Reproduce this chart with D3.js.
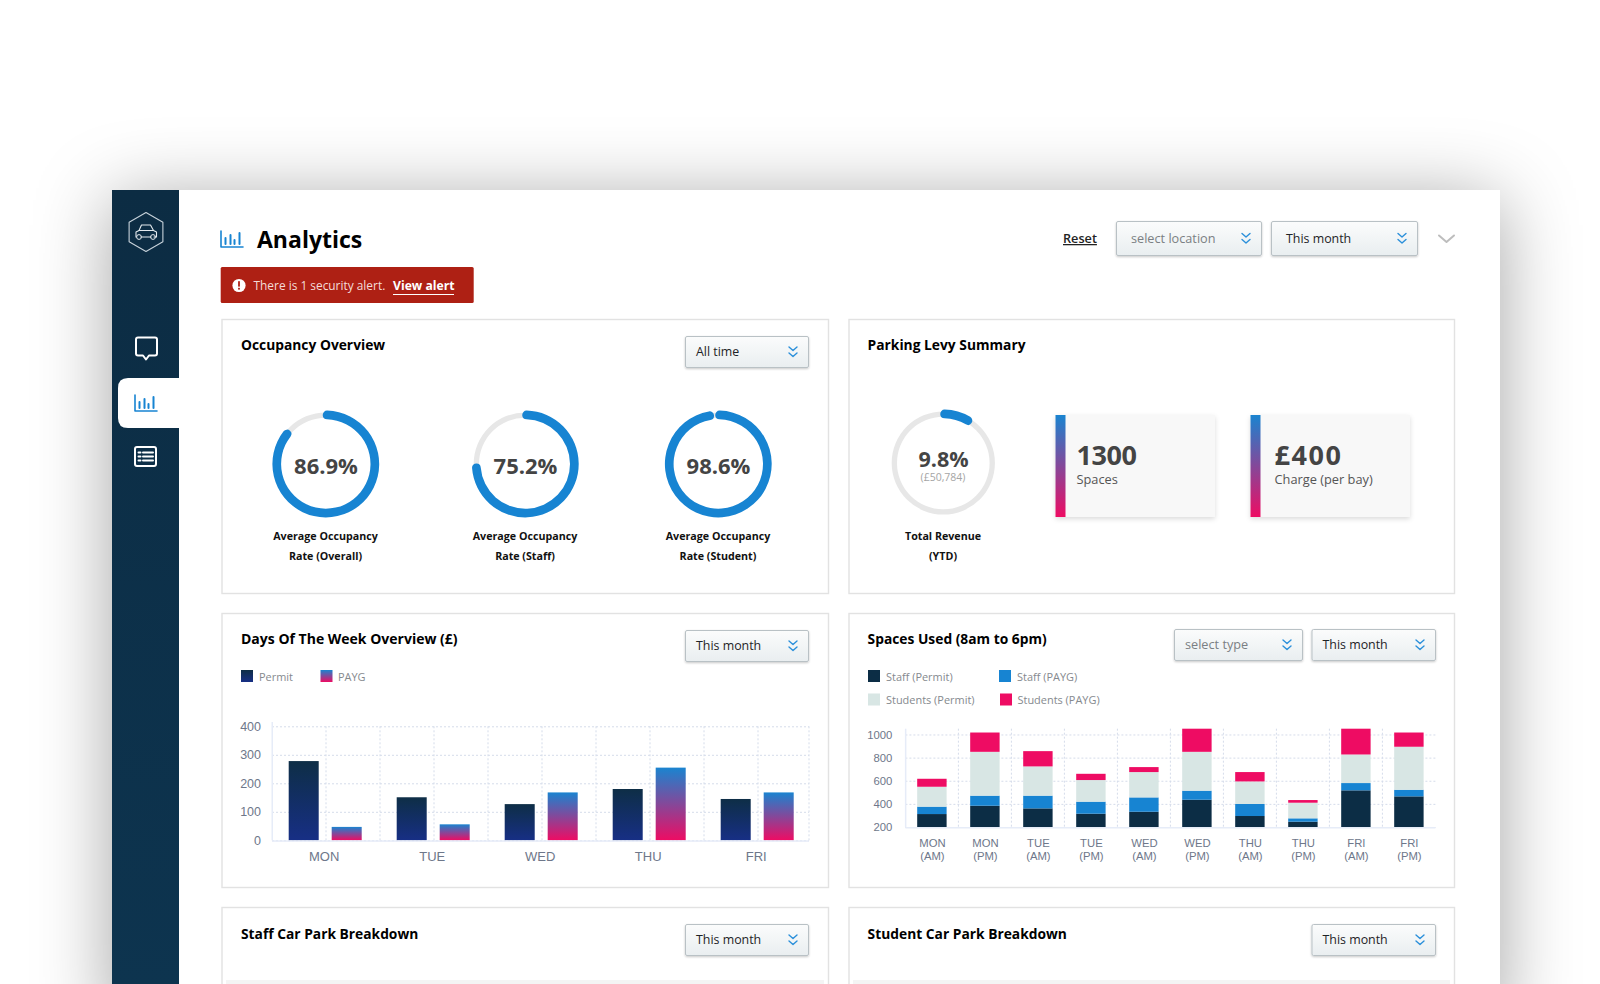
<!DOCTYPE html>
<html><head><meta charset="utf-8">
<script src="https://cdnjs.cloudflare.com/ajax/libs/d3/7.8.5/d3.min.js"></script>
<style>html,body{margin:0;padding:0;background:#fff;overflow:hidden}svg{display:block}</style>
</head><body><svg id="c" width="1600" height="984"></svg>
<script>
// ---- data ----
const weekDays = ["MON","TUE","WED","THU","FRI"];
const weekPermit = [278,151,127,180,145];
const weekPayg = [47,56,168,255,168];
const weekTicks = [0,100,200,300,400];
const weekLegend = ["Permit","PAYG"];
const slotDays = ["MON","MON","TUE","TUE","WED","WED","THU","THU","FRI","FRI"];
const slotParts = ["(AM)","(PM)","(AM)","(PM)","(AM)","(PM)","(AM)","(PM)","(AM)","(PM)"];
const staffPermit = [312,384,361,315,332,436,295,246,517,465];
const staffPayg = [64,87,110,104,124,78,104,29,63,57];
const studentPermit = [172,379,253,187,219,336,195,135,247,372];
const studentPayg = [69,167,132,54,43,220,81,23,240,123];
const spaceTicks = [200,400,600,800,1000];
const spaceLegend = ["Staff (Permit)","Staff (PAYG)","Students (Permit)","Students (PAYG)"];
const donutValues = [86.9,75.2,98.6,9.8];
const donutLabels = [["Average Occupancy","Rate (Overall)"],["Average Occupancy","Rate (Staff)"],["Average Occupancy","Rate (Student)"],["Total Revenue","(YTD)"]];
const statValues = ["1300","£400"];
const statLabels = ["Spaces","Charge (per bay)"];

const svg = d3.select("#c");
const UI = "'Open Sans','Noto Sans',sans-serif", AR = "'Liberation Sans',Arial,sans-serif";
const BLUE="#1784d2", NAVY="#0c2d45", PINK="#ee0c63", PALE="#d8e6e4";
const defs = svg.append("defs");
function grad(id,stops){const g=defs.append("linearGradient").attr("id",id).attr("x1",0).attr("y1",0).attr("x2",0).attr("y2",1);
  stops.forEach((c,i)=>g.append("stop").attr("offset",i/(stops.length-1)).attr("stop-color",c));}
grad("gPermit",["#0e2e46","#172f85"]);
grad("gPayg",["#1a84d0","#ee0c63"]);
grad("gSide",["#0c2c43","#0d344f"]);
grad("gSel",["#fbfcfc","#e9eef0"]);
function shadow(id,sd,dy,op){const f=defs.append("filter").attr("id",id).attr("filterUnits","userSpaceOnUse").attr("x",-100).attr("y",-100).attr("width",1800).attr("height",1200);
  f.append("feDropShadow").attr("dx",0).attr("dy",dy).attr("stdDeviation",sd).attr("flood-color","#000").attr("flood-opacity",op);}
shadow("sPanel",38,10,.36); shadow("sBox",2.5,2,.14); shadow("sSel",1,1,.22);

function T(x,y,s,o={}){return svg.append("text").attr("x",x).attr("y",y).text(s)
  .attr("font-family",o.f||UI).attr("font-size",o.s||13).attr("font-weight",o.w||400).attr("fill",o.c||"#000")
  .attr("text-anchor",o.a||"start").attr("letter-spacing",o.ls||null).attr("text-decoration",o.d||null);}
function R(x,y,w,h,fill,o={}){return svg.append("rect").attr("x",x).attr("y",y).attr("width",w).attr("height",h).attr("fill",fill)
  .attr("rx",o.r||0).attr("stroke",o.st||"none").attr("stroke-width",o.sw||1).attr("filter",o.fl||null);}
function P(d,o={}){return svg.append("path").attr("d",d).attr("fill",o.fill||"none").attr("stroke",o.st||"none").attr("stroke-width",o.sw||1.5)
  .attr("stroke-linecap","round").attr("stroke-linejoin","round");}

// panel + sidebar
R(112,190,1388,830,"#fff",{fl:"url(#sPanel)"});
R(112,190,67,794,"url(#gSide)");

// sidebar logo
const lx=146,ly=232;
P(d3.range(6).map(i=>{const a=Math.PI/3*i-Math.PI/2;return (i?"L":"M")+(lx+19.5*Math.cos(a))+","+(ly+19.5*Math.sin(a));}).join("")+"Z",{st:"#c7d2da",sw:1.1});
P(`M${lx-10},${ly+5}v-5l3,-1.5 2.5,-5.5h9l3,5.5 3,1.5v5h-2.5M${lx-5},${ly+5}h10M${lx-7.5},${ly-1.5}h15`,{st:"#e4eaee",sw:1.1});
svg.append("circle").attr("cx",lx-7).attr("cy",ly+5).attr("r",2.4).attr("fill","none").attr("stroke","#e4eaee");
svg.append("circle").attr("cx",lx+7).attr("cy",ly+5).attr("r",2.4).attr("fill","none").attr("stroke","#e4eaee");
// chat
P("M136,339.5q0,-2 2,-2h17q2,0 2,2v14q0,2 -2,2h-6l-3,4 -3,-4h-5q-2,0 -2,-2Z",{st:"#fff",sw:2});
// active tab
svg.append("path").attr("d","M179,378H128q-10,0 -10,10v30q0,10 10,10H179Z").attr("fill","#fff");
function barsIcon(x,y){P(`M${x},${y}v16h22`,{st:BLUE,sw:1.6});
  [[5,6],[10,3],[14,8],[19,1]].forEach(([dx,t])=>P(`M${x+dx-.5},${y+t+1}V${y+13}`,{st:BLUE,sw:2}));}
barsIcon(135,395); barsIcon(221,231);
// list icon
P("M135,449q0,-2 2,-2h17q2,0 2,2v15q0,2 -2,2h-17q-2,0 -2,-2Z",{st:"#fff",sw:2});
[452.5,456.5,460.5].forEach(y=>{P(`M138.5,${y}h2`,{st:"#fff",sw:2});P(`M143,${y}h10`,{st:"#fff",sw:2});});

// header
T(257,248,"Analytics",{s:23,w:700});
T(1063,243,"Reset",{s:12.7,w:600,c:"#222",d:"underline"});
function chev(x,y){P(`M${x-4},${y-5}l4,3.5 4,-3.5M${x-4},${y+1}l4,3.5 4,-3.5`,{st:"#2a8fda",sw:1.4});}
function sel(x,y,w,h,s,gray){R(x+.5,y+.5,w-1,h-1,"url(#gSel)",{r:1.5,st:"#b9c1c5",fl:"url(#sSel)"});
  T(x+(w>130?15:11),y+h/2+4,s,{s:gray?12.7:12.4,c:gray?"#7b7f83":"#1e2326"});chev(x+w-16,y+h/2);}
sel(1116,221,146,35,"select location",true);
sel(1271,221,147,35,"This month");
P("M1439,235.5l7.5,6.5 7.5,-6.5",{st:"#bdbdbd",sw:2});

// alert
R(220.7,267,253,36,"#ae2014",{r:1.5});
svg.append("circle").attr("cx",239).attr("cy",285.5).attr("r",6.6).attr("fill","#fff");
R(238.1,281.2,1.8,5.4,"#ae2014"); R(238.1,287.8,1.8,1.8,"#ae2014");
T(253.5,290,"There is 1 security alert.",{s:11.9,c:"#f4dcd9"});
T(393,290,"View alert",{s:12.2,w:700,c:"#fff"});
R(393,294,61,1,"#fff");

// cards
const cards=[[221,319,606.5,274,"Occupancy Overview"],[848,319,605.5,274,"Parking Levy Summary"],
 [221,613,606.5,274,"Days Of The Week Overview (£)"],[848,613,605.5,274,"Spaces Used (8am to 6pm)"],
 [221,907,606.5,120,"Staff Car Park Breakdown"],[848,907,605.5,120,"Student Car Park Breakdown"]];
cards.forEach((c,i)=>{R(c[0]+1,c[1]+.5,c[2],c[3],"#fff",{st:"#e2e2e2",sw:1.4});T(c[0]+(i%2?19.6:20),c[1]+31+(i>3?.5:0),c[4],{s:i===2?14:13.8,w:700});});
sel(685,336,124,32,"All time");
sel(685,630,124,32,"This month");
sel(1174,629,129,32,"select type",true);
sel(1311.5,629,124.5,32,"This month");
sel(685,924,124,32,"This month");
sel(1311.5,924,124.5,32,"This month");
R(226,980,598,4,"#f4f4f4"); R(853,980,597,4,"#f4f4f4");

// donuts
const donutCx=[325.5,525,718,943], donutCy=[464,464,464,463];
donutValues.forEach((v,i)=>{
  const g=svg.append("g").attr("transform",`translate(${donutCx[i]+.3},${donutCy[i]})`);
  const ang=d3.scaleLinear().domain([0,100]).range([0,2*Math.PI]);
  g.append("path").attr("d",d3.arc()({innerRadius:46.3,outerRadius:51.6,startAngle:0,endAngle:2*Math.PI})).attr("fill","#e7e7e7");
  g.append("path").attr("d",d3.arc().cornerRadius(4.5)({innerRadius:44.7,outerRadius:53.4,startAngle:ang(-1),endAngle:ang(v)})).attr("fill",BLUE);
  const small=i===3;
  T(donutCx[i]+.5,donutCy[i]+(small?4:9.5),v+"%",{s:small?21.5:22,w:700,c:"#444",a:"middle"});
  if(small)T(donutCx[i],donutCy[i]+18,"(£50,784)",{s:10.5,c:"#a5a5a5",a:"middle"});
  donutLabels[i].forEach((l,j)=>T(donutCx[i],540+j*19.5,l,{s:10.7,w:700,c:"#111",a:"middle"}));
});

// stat boxes
const statX=[1056,1251], statGap=[-.4,1.6], statTx=[20.5,23.5];
statValues.forEach((v,i)=>{
  R(statX[i]-.5,415,159.5,102,"#f8f8f8",{fl:"url(#sBox)"});
  R(statX[i]-.5,415,10,102,"url(#gPayg)");
  T(statX[i]+statTx[i],465,v,{s:27,w:700,c:"#444",ls:statGap[i]});
  T(statX[i]+statTx[i],484,statLabels[i],{s:12.8,c:"#555"});
});

// legends
function leg(x,y,fill,s,tx){R(x,y,12,12,fill);T(tx,y+10.5,s,{s:10.95,c:"#85898e"});}
leg(241,670,"url(#gPermit)",weekLegend[0],259);
leg(320.5,670,"url(#gPayg)",weekLegend[1],338);
const spaceFill=[NAVY,BLUE,PALE,PINK];
leg(868,670,spaceFill[0],spaceLegend[0],886);
leg(999,670,spaceFill[1],spaceLegend[1],1017);
leg(868,693.5,spaceFill[2],spaceLegend[2],886);
leg(1000,693.5,spaceFill[3],spaceLegend[3],1017.5);

function styleAxis(g,size,dash){
  g.select(".domain").remove();
  g.selectAll("line").attr("stroke",dash?"#d5dcea":"none").attr("stroke-dasharray",dash?"2 2":null);
  g.selectAll("text").attr("font-family",AR).attr("font-size",size).attr("fill","#6e778a");
}
function vGrid(xs,y0,y1){svg.append("g").selectAll("line").data(xs).join("line").attr("x1",d=>d).attr("x2",d=>d).attr("y1",y0).attr("y2",y1)
  .attr("stroke","#d5dcea").attr("stroke-dasharray","2 2");}

// Days of the week chart
{
  const L=272,Rt=809,Top=722,B=840.3;
  const x0=d3.scaleBand().domain(weekDays).range([L-.8,L+539.2]);
  const x1=d3.scaleBand().domain([0,1]).range([0,x0.bandwidth()]).paddingInner(.302).paddingOuter(.407);
  const y=d3.scaleLinear().domain([0,400]).range([B,726.3]);
  const gy=svg.append("g").attr("transform",`translate(${L},0)`).call(d3.axisLeft(y).tickValues(weekTicks).tickSize(-(Rt-L)).tickPadding(11));
  styleAxis(gy,12.5,true);
  gy.selectAll("text").attr("dy",".32em");
  vGrid(d3.range(1,10).map(i=>L+54*i).concat([Rt]),726.3,B);
  weekDays.forEach((d,i)=>{
    [[weekPermit[i],"gPermit"],[weekPayg[i],"gPayg"]].forEach(([v,g],j)=>
      svg.append("rect").attr("x",x0(d)+x1(j)).attr("width",x1.bandwidth()).attr("y",y(v)).attr("height",B-y(v)).attr("fill",`url(#${g})`));
  });
  R(L-.5,Top,1.5,B-Top,"#e6ecf8"); R(L,B,Rt-L,1.5,"#e6ecf8");
  const gx=svg.append("g").attr("transform",`translate(-1,${B})`).call(d3.axisBottom(x0).tickSize(0).tickPadding(11));
  styleAxis(gx,13,false);
}

// Spaces used chart
{
  const L=905.4,Rt=1435.4,B=827,Top=728.7;
  const keys=["sp","sg","tp","tg"];
  const rows=slotDays.map((d,i)=>({id:i,sp:staffPermit[i],sg:staffPayg[i],tp:studentPermit[i],tg:studentPayg[i]}));
  const x=d3.scaleBand().domain(d3.range(slotDays.length)).range([L,Rt]).paddingInner(.445).paddingOuter(.2225);
  const y=d3.scaleLinear().domain([200,1050]).range([B,Top]).clamp(true);
  const gy=svg.append("g").attr("transform",`translate(${L},0)`).call(d3.axisLeft(y).tickValues(spaceTicks).tickFormat(d3.format("d")).tickSize(-(Rt-L)).tickPadding(13));
  styleAxis(gy,11.3,true);
  vGrid(d3.range(1,10).map(i=>L+x.step()*i),Top,B);
  svg.append("g").selectAll("g").data(d3.stack().keys(keys)(rows)).join("g").attr("fill",(d,i)=>spaceFill[i])
    .selectAll("rect").data(d=>d).join("rect")
    .attr("x",d=>x(d.data.id)).attr("width",x.bandwidth()).attr("y",d=>y(d[1])).attr("height",d=>y(d[0])-y(d[1]));
  R(L-.5,Top,1.5,B-Top,"#e6ecf8"); R(L,B,Rt-L,1.5,"#e6ecf8");
  slotDays.forEach((d,i)=>{const cx=x(i)+x.bandwidth()/2+.5;
    T(cx,847,d,{f:AR,s:11.3,c:"#6e778a",a:"middle"});
    T(cx,859.5,slotParts[i],{f:AR,s:11.3,c:"#6e778a",a:"middle"});});
}
</script></body></html>
